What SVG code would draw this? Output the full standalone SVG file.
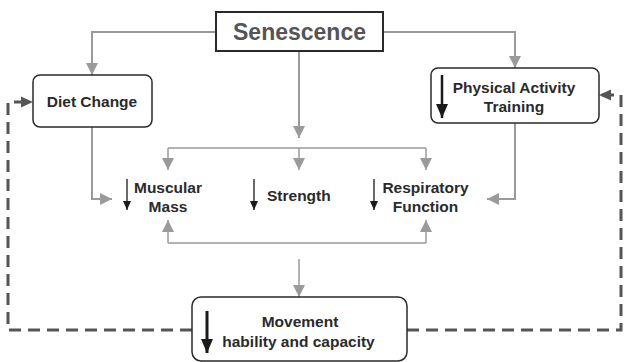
<svg xmlns="http://www.w3.org/2000/svg" width="624" height="362" viewBox="0 0 624 362">
<defs>
<style>
.box{fill:#fff;stroke:#2a2a2a;stroke-width:1.5}
.t{font-family:"Liberation Sans",Arial,sans-serif;font-weight:bold;font-size:15.5px;fill:#2a2a2a;text-anchor:middle}
.g{fill:none;stroke:#9a9a9a;stroke-width:2}
.g2{fill:none;stroke:#9a9a9a;stroke-width:1.5}
.d{fill:none;stroke:#555;stroke-width:3;stroke-dasharray:12 7}
.bk{stroke:#1a1a1a;fill:none}
</style>
<marker id="ga" markerUnits="userSpaceOnUse" markerWidth="12" markerHeight="12" viewBox="0 0 12 12" refX="12" refY="6" orient="auto"><path d="M0,0 L12,6 L0,12 Z" fill="#9a9a9a"/></marker>
<marker id="da" markerUnits="userSpaceOnUse" markerWidth="12" markerHeight="12" viewBox="0 0 12 12" refX="12" refY="6" orient="auto"><path d="M0,0.5 L12,6 L0,11.5 Z" fill="#555"/></marker>
<marker id="ba" markerUnits="userSpaceOnUse" markerWidth="9" markerHeight="8" viewBox="0 0 9 8" refX="9" refY="4" orient="auto"><path d="M0,0 L9,4 L0,8 Z" fill="#1a1a1a"/></marker>
<marker id="bb" markerUnits="userSpaceOnUse" markerWidth="14" markerHeight="12" viewBox="0 0 14 12" refX="14" refY="6" orient="auto"><path d="M0,0 L14,6 L0,12 Z" fill="#1a1a1a"/></marker>
</defs>
<g id="connectors">
<path class="g" d="M216,32 H92 V75" marker-end="url(#ga)"/>
<path class="g" d="M383,32 H515 V68" marker-end="url(#ga)"/>
<path class="g" d="M299,51 V138" marker-end="url(#ga)"/>
<path class="g2" d="M168,148 H426"/>
<path class="g2" d="M168,148 V170" marker-end="url(#ga)"/>
<path class="g2" d="M299,148 V170" marker-end="url(#ga)"/>
<path class="g2" d="M426,148 V170" marker-end="url(#ga)"/>
<path class="g" d="M92,127 V199 H112" marker-end="url(#ga)"/>
<path class="g" d="M515,123 V199 H487" marker-end="url(#ga)"/>
<path class="g2" d="M168,243 H426"/>
<path class="g2" d="M168,243 V220" marker-end="url(#ga)"/>
<path class="g2" d="M426,243 V220" marker-end="url(#ga)"/>
<path class="g2" d="M299,259 V297" marker-end="url(#ga)"/>
<path class="d" d="M192,330 H8 V102 H33" marker-end="url(#da)"/>
<path class="d" d="M407,330 H621 V95 H599" marker-end="url(#da)"/>
</g>
<g id="senescence">
<rect class="box" x="216" y="12" width="167" height="39" style="stroke-width:2"/>
<text class="t" x="299.5" y="40" style="font-size:23px;fill:#555">Senescence</text>
</g>
<g id="diet-change">
<rect class="box" x="33" y="75" width="119" height="52" rx="7"/>
<text class="t" x="92" y="107">Diet Change</text>
</g>
<g id="physical-activity">
<rect class="box" x="431" y="68" width="168" height="55" rx="7"/>
<path class="bk" d="M442,75 V118" style="stroke-width:2.5" marker-end="url(#bb)"/>
<text class="t" x="514" y="93">Physical Activity</text>
<text class="t" x="514" y="112">Training</text>
</g>
<g id="muscular-mass">
<path class="bk" d="M127,179 V210" style="stroke-width:1.3" marker-end="url(#ba)"/>
<text class="t" x="168" y="193">Muscular</text>
<text class="t" x="168" y="212">Mass</text>
</g>
<g id="strength">
<path class="bk" d="M254,179 V210" style="stroke-width:1.3" marker-end="url(#ba)"/>
<text class="t" x="267" y="201" style="text-anchor:start">Strength</text>
</g>
<g id="respiratory-function">
<path class="bk" d="M374,179 V210" style="stroke-width:1.3" marker-end="url(#ba)"/>
<text class="t" x="425.5" y="193">Respiratory</text>
<text class="t" x="425.5" y="212">Function</text>
</g>
<g id="movement">
<rect class="box" x="192" y="297" width="215" height="64" rx="9"/>
<path class="bk" d="M207,311 V353" style="stroke-width:3" marker-end="url(#bb)"/>
<text class="t" x="300" y="327">Movement</text>
<text class="t" x="298.5" y="347">hability and capacity</text>
</g>
</svg>
